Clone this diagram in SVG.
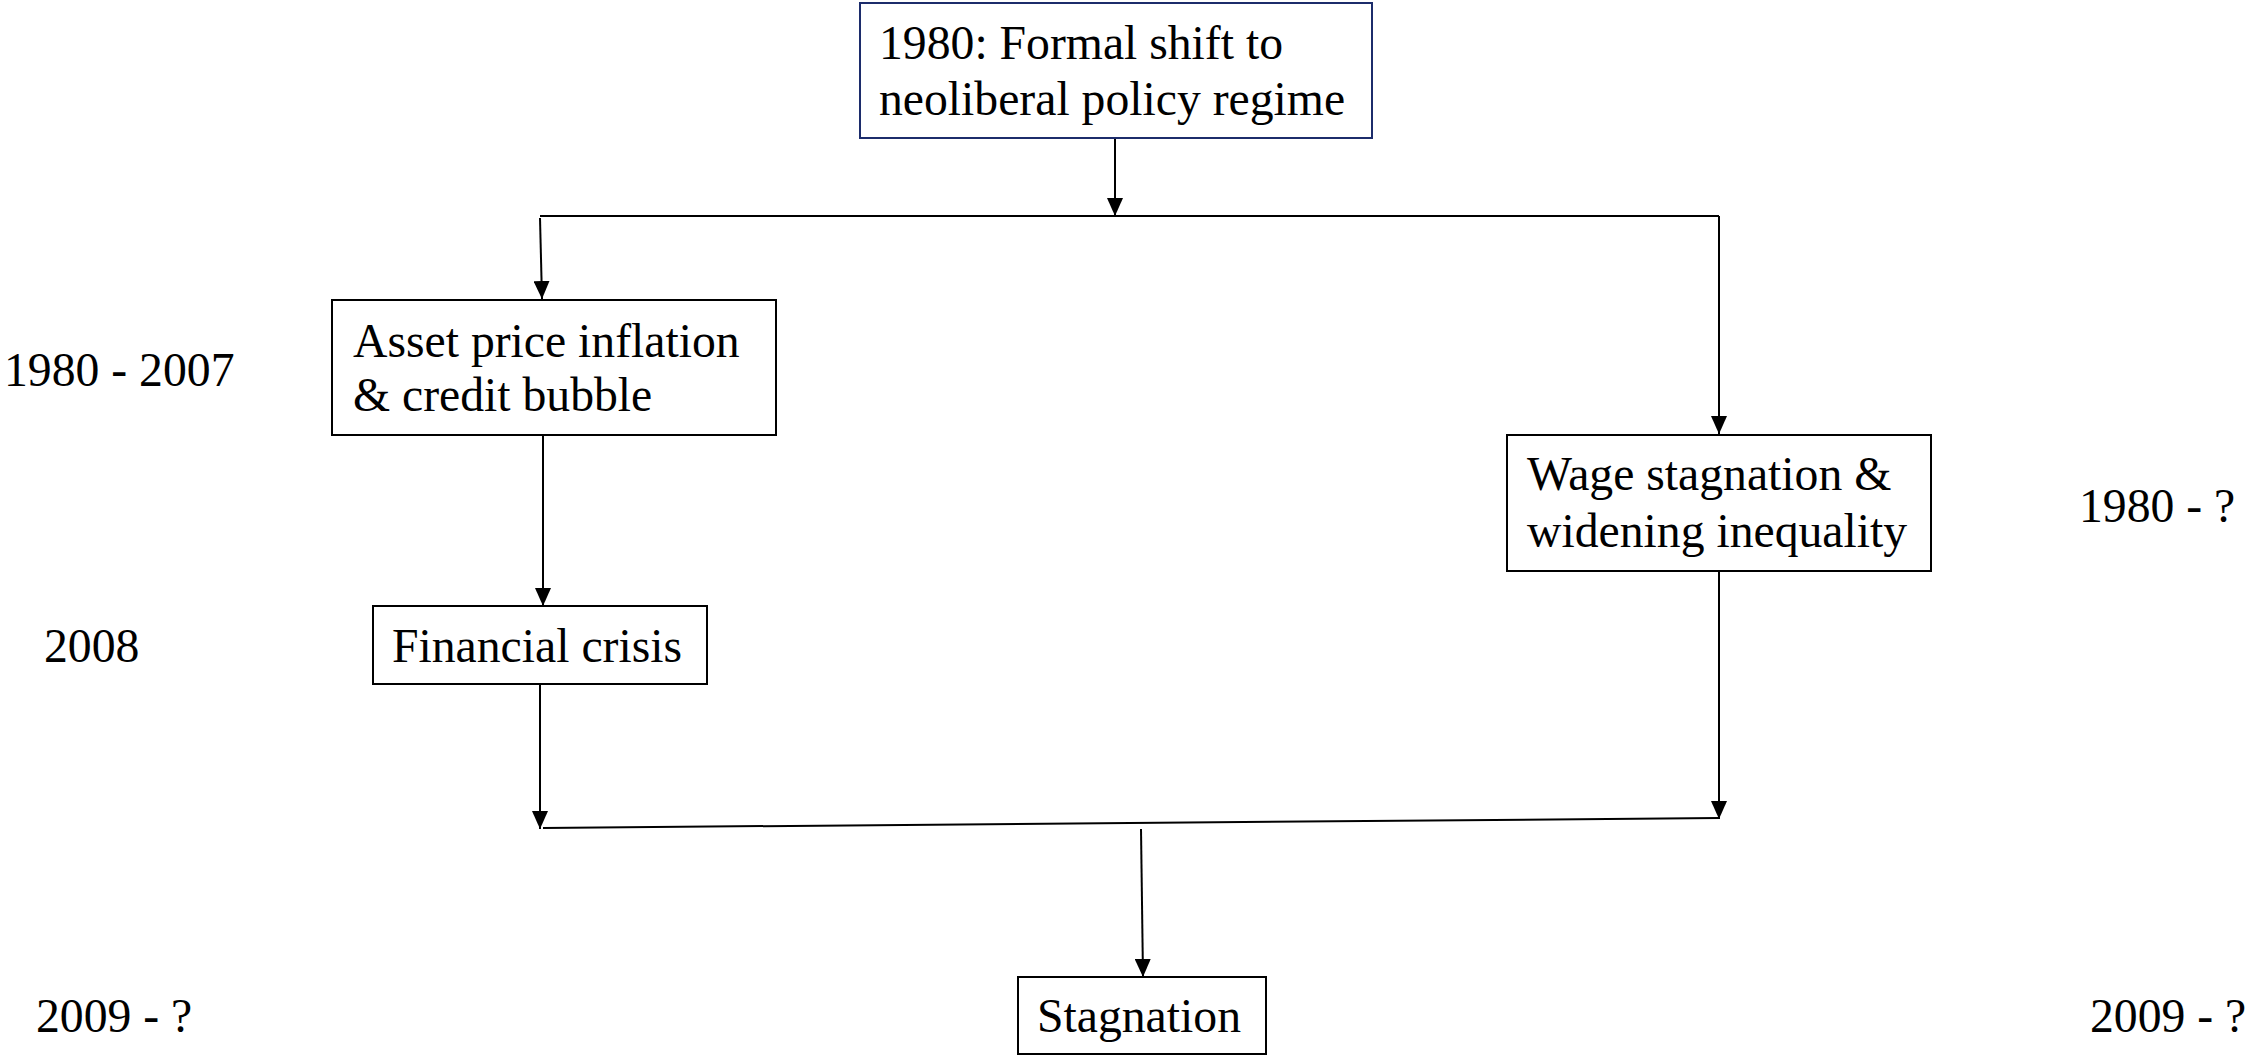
<svg xmlns="http://www.w3.org/2000/svg" width="2248" height="1055" viewBox="0 0 2248 1055">
<defs>
<style>
.box{fill:#fff;stroke:#000;stroke-width:2}
.top{fill:#fff;stroke:#1c2c6b;stroke-width:2}
.t{font-family:"Liberation Serif","Times New Roman",serif;font-size:47.7px;fill:#000}
.c{fill:none;stroke:#000;stroke-width:2}
</style>
<marker id="ah" markerUnits="userSpaceOnUse" markerWidth="18" markerHeight="16" refX="18" refY="8" orient="auto" viewBox="0 0 18 16">
<path d="M0,0 L18,8 L0,16 z" fill="#000"/>
</marker>
</defs>
<rect width="2248" height="1055" fill="#fff"/>
<g id="connectors">
<line class="c" x1="1115" y1="138" x2="1115" y2="216" marker-end="url(#ah)"/>
<line class="c" x1="540" y1="216" x2="1719" y2="216"/>
<line class="c" x1="540" y1="218" x2="542" y2="299" marker-end="url(#ah)"/>
<line class="c" x1="1719" y1="216" x2="1719" y2="434" marker-end="url(#ah)"/>
<line class="c" x1="543" y1="435" x2="543" y2="606" marker-end="url(#ah)"/>
<line class="c" x1="540" y1="684" x2="540" y2="829" marker-end="url(#ah)"/>
<line class="c" x1="1719" y1="571" x2="1719" y2="819" marker-end="url(#ah)"/>
<line class="c" x1="543" y1="828" x2="1719" y2="818"/>
<line class="c" x1="1141" y1="829" x2="1143" y2="977" marker-end="url(#ah)"/>
</g>
<g id="n-regime">
<rect class="top" x="860" y="3" width="512" height="135"/>
<text class="t" x="879" y="59">1980: Formal shift to</text>
<text class="t" x="879" y="115">neoliberal policy regime</text>
</g>
<g id="n-asset">
<rect class="box" x="332" y="300" width="444" height="135"/>
<text class="t" x="353" y="357">Asset price inflation</text>
<text class="t" x="353" y="411">&amp; credit bubble</text>
</g>
<g id="n-crisis">
<rect class="box" x="373" y="606" width="334" height="78"/>
<text class="t" x="392" y="662">Financial crisis</text>
</g>
<g id="n-wage">
<rect class="box" x="1507" y="435" width="424" height="136"/>
<text class="t" x="1527" y="490">Wage stagnation &amp;</text>
<text class="t" x="1527" y="547">widening inequality</text>
</g>
<g id="n-stagnation">
<rect class="box" x="1018" y="977" width="248" height="77"/>
<text class="t" x="1037" y="1032">Stagnation</text>
</g>
<g id="labels">
<text class="t" x="4" y="386">1980 - 2007</text>
<text class="t" x="44" y="662">2008</text>
<text class="t" x="36" y="1032">2009 - ?</text>
<text class="t" x="2079" y="522">1980 - ?</text>
<text class="t" x="2090" y="1032">2009 - ?</text>
</g>
</svg>
